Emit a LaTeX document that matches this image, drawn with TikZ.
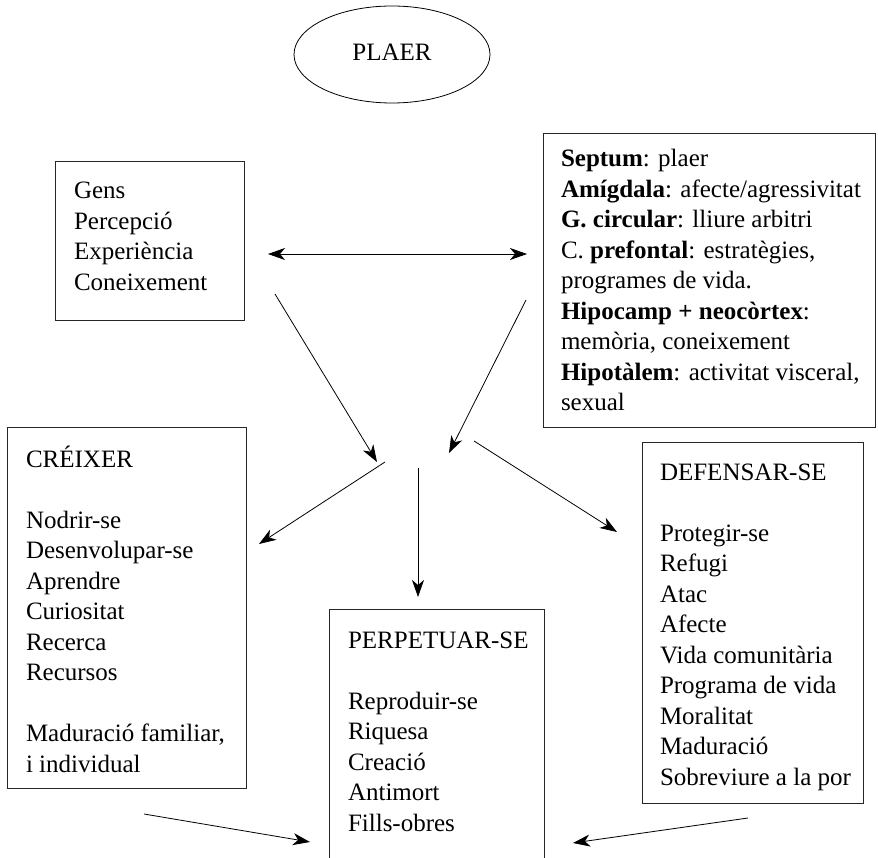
\documentclass[tikz,border=0pt]{standalone}
\usepackage{fontspec}
\setmainfont{Liberation Serif}
\usetikzlibrary{arrows.meta}
\newcommand\boxlines[1]{\begin{tabular}[t]{@{}l@{}}#1\end{tabular}}
\begin{document}
\begin{tikzpicture}[x=1pt,y=-1pt,
  font=\fontsize{25}{30.5}\selectfont,
  frame/.style={draw=black!85, line width=0.9pt, anchor=north west, inner sep=0pt, outer sep=0pt},
  txt/.style={anchor=base west, inner sep=0pt, outer sep=0pt},
  tip/.style={Stealth[length=17pt,width=12pt,inset=5pt]},
  arr/.style={line width=0.8pt, -{Stealth[length=17pt,width=12pt,inset=5pt]}},
  darr/.style={line width=0.8pt, {Stealth[length=17pt,width=12pt,inset=5pt]}-{Stealth[length=17pt,width=12pt,inset=5pt]}}]
\clip (0,0) rectangle (878,858);
\fill[white] (0,0) rectangle (878,858);
% ellipse
\draw[line width=0.8pt] (392,54.5) ellipse [x radius=98, y radius=48.5];
\node[inner sep=0pt] (plaer) at (392,52) {PLAER};
% boxes
\node[frame, minimum width=189pt, minimum height=159pt] (gens) at (55,161) {};
\node[frame, minimum width=332pt, minimum height=294pt] (brain) at (543,133) {};
\node[frame, minimum width=239pt, minimum height=361pt] (creixer) at (7,427) {};
\node[frame, minimum width=215pt, minimum height=300pt] (perp) at (329,609) {};
\node[frame, minimum width=221pt, minimum height=361pt] (defensar) at (642,442) {};
% texts
\node[txt] (gens-t) at (74,199) {\boxlines{Gens\\Percepció\\Experiència\\Coneixement}};
\node[txt] (brain-t) at (561,167) {\boxlines{\textbf{Septum}: plaer\\
\textbf{Amígdala}: afecte/agressivitat\\
\textbf{G. circular}: lliure arbitri\\
C. \textbf{prefontal}: estratègies,\\
programes de vida.\\
\textbf{Hipocamp + neocòrtex}:\\
memòria, coneixement\\
\textbf{Hipotàlem}: activitat visceral,\\
sexual}};
\node[txt] (creixer-t) at (26,467) {\boxlines{CRÉIXER\\ \\Nodrir-se\\Desenvolupar-se\\Aprendre\\Curiositat\\Recerca\\Recursos\\ \\Maduració familiar,\\i individual}};
\node[txt] (perp-t) at (348,648) {\boxlines{PERPETUAR-SE\\ \\Reproduir-se\\Riquesa\\Creació\\Antimort\\Fills-obres}};
\node[txt] (defensar-t) at (660,480) {\boxlines{DEFENSAR-SE\\ \\Protegir-se\\Refugi\\Atac\\Afecte\\Vida comunitària\\Programa de vida\\Moralitat\\Maduració\\Sobreviure a la por}};
% connector end points
\coordinate (d1) at (268,254);
\coordinate (d2) at (527,254);
\coordinate (a1s) at (275,294);
\coordinate (a1e) at (377,462);
\coordinate (a2s) at (526,300);
\coordinate (a2e) at (449,453);
\coordinate (a3s) at (385,462);
\coordinate (a3e) at (259,544);
\coordinate (a4s) at (418,468);
\coordinate (a4e) at (418,597);
\coordinate (a5s) at (474,441);
\coordinate (a5e) at (617,532);
\coordinate (a6s) at (144,814);
\coordinate (a6e) at (310,842);
\coordinate (a7s) at (748,818);
\coordinate (a7e) at (573,843);
% connectors
\draw[darr] (d1) -- (d2);
\draw[arr] (a1s) -- (a1e);
\draw[arr] (a2s) -- (a2e);
\draw[arr] (a3s) -- (a3e);
\draw[arr] (a4s) -- (a4e);
\draw[arr] (a5s) -- (a5e);
\draw[arr] (a6s) -- (a6e);
\draw[arr] (a7s) -- (a7e);
\end{tikzpicture}
\end{document}
